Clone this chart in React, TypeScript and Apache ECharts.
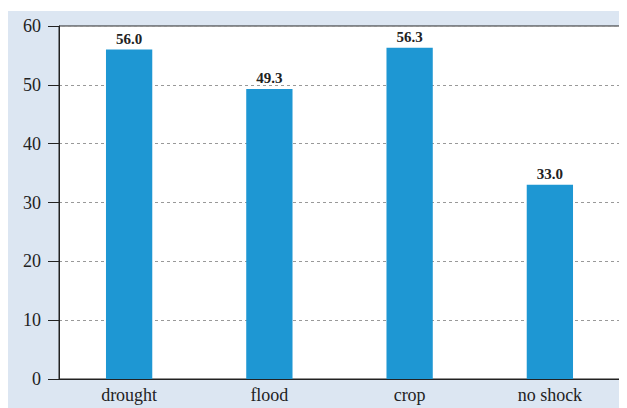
import React, { useEffect, useRef } from "react";
import * as echarts from "echarts";

const categories = ["drought", "flood", "crop", "no shock"];
const values = [56.0, 49.3, 56.3, 33.0];
const yTicks = [0, 10, 20, 30, 40, 50, 60];

export default function App() {
  const ref = useRef<HTMLDivElement>(null);
  useEffect(() => {
    const chart = echarts.init(ref.current!, undefined, { renderer: "svg" });
    const font = "'Liberation Serif', 'DejaVu Serif', serif";
    chart.setOption({
      animation: false,
      backgroundColor: "#dce6f2",
      grid: {
        left: 51,
        top: 15,
        right: 7,
        bottom: 29,
        show: true,
        backgroundColor: "#ffffff",
        borderColor: "#222222",
        borderWidth: 1,
      },
      xAxis: {
        type: "category",
        data: categories,
        axisLine: { show: true, lineStyle: { color: "#222222", width: 1 } },
        axisTick: { show: false },
        axisLabel: { fontFamily: font, fontSize: 18, color: "#222222", margin: 7 },
      },
      yAxis: {
        type: "value",
        min: yTicks[0],
        max: yTicks[yTicks.length - 1],
        interval: 10,
        axisLine: { show: true, lineStyle: { color: "#222222", width: 1 } },
        axisTick: { show: true, inside: false, length: 11, lineStyle: { color: "#222222" } },
        axisLabel: { fontFamily: font, fontSize: 18, color: "#222222", margin: 18 },
        splitLine: { show: true, lineStyle: { color: "#999999", type: [3, 3], width: 1 } },
      },
      series: [
        {
          type: "bar",
          data: values,
          barWidth: "33%",
          itemStyle: { color: "#1e97d3" },
          label: {
            show: true,
            position: "top",
            distance: 3,
            formatter: (p: any) => Number(p.value).toFixed(1),
            fontFamily: font,
            fontWeight: "bold",
            fontSize: 15,
            color: "#222222",
          },
        },
      ],
    });
    return () => chart.dispose();
  }, []);
  return <div ref={ref} style={{ width: 619, height: 397, marginTop: 3 }} />;
}
